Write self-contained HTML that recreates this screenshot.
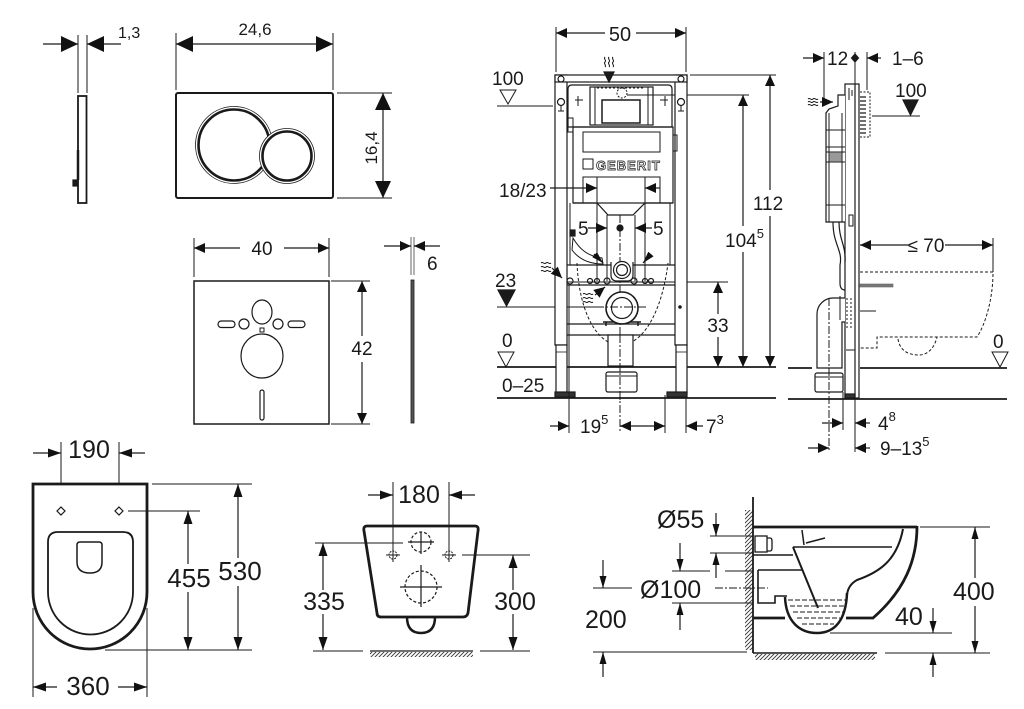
<!DOCTYPE html>
<html><head><meta charset="utf-8">
<style>
html,body{margin:0;padding:0;background:#fff;}
svg{display:block;}
text{font-family:"Liberation Sans",Arial,sans-serif;fill:#1a1a1a;stroke:none;}
</style></head><body>
<svg width="1024" height="709" viewBox="0 0 1024 709" xmlns="http://www.w3.org/2000/svg">
<defs>
<marker id="mB" markerUnits="userSpaceOnUse" markerWidth="17" markerHeight="16" refX="17" refY="8" orient="auto-start-reverse"><path d="M0,0L17,8L0,16Z" fill="#111"/></marker>
<marker id="mM" markerUnits="userSpaceOnUse" markerWidth="11" markerHeight="10" refX="11" refY="5" orient="auto-start-reverse"><path d="M0,0L11,5L0,10Z" fill="#111"/></marker>
<marker id="mS" markerUnits="userSpaceOnUse" markerWidth="13" markerHeight="9" refX="13" refY="4.5" orient="auto-start-reverse"><path d="M0,0L13,4.5L0,9Z" fill="#111"/></marker>
<marker id="mT" markerUnits="userSpaceOnUse" markerWidth="12" markerHeight="7" refX="12" refY="3.5" orient="auto-start-reverse"><path d="M0,0L12,3.5L0,7Z" fill="#111"/></marker>
<pattern id="hp" patternUnits="userSpaceOnUse" width="4" height="4"><path d="M0,4L4,0M-1,1L1,-1M3,5L5,3" stroke="#333" stroke-width="0.9"/></pattern>
</defs>
<rect width="1024" height="709" fill="#fff"/>

<g fill="none" stroke="#1a1a1a" stroke-width="1.2">
<!-- ===== Button side view ===== -->
<line x1="78" y1="35" x2="78" y2="93" stroke-width="1"/>
<line x1="87" y1="35" x2="87" y2="93" stroke-width="1"/>
<line x1="43" y1="44" x2="78" y2="44" marker-end="url(#mB)"/>
<line x1="121" y1="44" x2="87" y2="44" marker-end="url(#mB)"/>
<rect x="78" y="96" width="8.5" height="107" stroke-width="1.8"/>
<line x1="78" y1="150" x2="78" y2="180" stroke-width="2.5"/>
<rect x="73" y="180" width="5" height="6" fill="#1a1a1a"/>

<!-- ===== Button front ===== -->
<rect x="176" y="93" width="157" height="105" rx="2" stroke-width="2"/>
<circle cx="234" cy="145" r="38.5" fill="#fff" stroke-width="0.8"/>
<circle cx="234" cy="145" r="35.5" fill="#fff" stroke-width="2.6"/>
<circle cx="287" cy="156" r="27.5" fill="#fff" stroke-width="0.8"/>
<circle cx="287" cy="156" r="24.5" fill="#fff" stroke-width="2.6"/>
<line x1="176" y1="33" x2="176" y2="90" stroke-width="1"/>
<line x1="333" y1="33" x2="333" y2="90" stroke-width="1"/>
<line x1="176" y1="44" x2="333" y2="44" marker-start="url(#mB)" marker-end="url(#mB)"/>
<line x1="337" y1="93" x2="392" y2="93" stroke-width="1"/>
<line x1="337" y1="198" x2="392" y2="198" stroke-width="1"/>
<line x1="383" y1="93" x2="383" y2="198" marker-start="url(#mB)" marker-end="url(#mB)"/>

<!-- ===== Mat ===== -->
<line x1="194" y1="238" x2="194" y2="277" stroke-width="1"/>
<line x1="329" y1="238" x2="329" y2="277" stroke-width="1"/>
<line x1="194" y1="248" x2="240" y2="248" marker-start="url(#mM)"/>
<line x1="284" y1="248" x2="329" y2="248" marker-end="url(#mM)"/>
<rect x="194" y="281" width="135" height="143" stroke-width="1.5"/>
<ellipse cx="262" cy="312" rx="10" ry="12"/>
<rect x="218" y="321" width="17" height="6.5" rx="3.2"/>
<circle cx="244" cy="324" r="5"/>
<circle cx="278" cy="324" r="5"/>
<rect x="288" y="321" width="17" height="6.5" rx="3.2"/>
<rect x="260" y="328" width="4" height="4" stroke-width="1"/>
<ellipse cx="262" cy="356" rx="21" ry="22"/>
<rect x="260" y="390" width="4" height="30" rx="2"/>
<line x1="331" y1="281" x2="370" y2="281" stroke-width="1"/>
<line x1="331" y1="424" x2="370" y2="424" stroke-width="1"/>
<line x1="362" y1="281" x2="362" y2="336" marker-start="url(#mM)"/>
<line x1="362" y1="362" x2="362" y2="424" marker-end="url(#mM)"/>
<rect x="411" y="280" width="3" height="143" fill="#555" stroke-width="0.8"/>
<line x1="411" y1="237" x2="411" y2="275" stroke="#999" stroke-width="1.5"/>
<line x1="414" y1="237" x2="414" y2="275" stroke="#999" stroke-width="1.5"/>
<line x1="384" y1="246" x2="411" y2="246" marker-end="url(#mM)"/>
<line x1="440" y1="246" x2="414" y2="246" marker-end="url(#mM)"/>

<!-- ===== Frame front view ===== -->
<line x1="556" y1="27" x2="556" y2="72" stroke-width="1"/>
<line x1="686" y1="27" x2="686" y2="72" stroke-width="1"/>
<line x1="556" y1="33" x2="605" y2="33" marker-start="url(#mM)"/>
<line x1="636" y1="33" x2="686" y2="33" marker-end="url(#mM)"/>
<polygon points="500,90 516,90 508,104" fill="#fff" stroke-width="1"/>
<line x1="497" y1="106" x2="553" y2="106" stroke-width="1"/>
<line x1="690" y1="75" x2="776" y2="75" stroke-width="1"/>
<line x1="627" y1="95" x2="749" y2="95" stroke-width="1"/>
<line x1="770" y1="75" x2="770" y2="190" marker-start="url(#mM)"/>
<line x1="770" y1="216" x2="770" y2="367" marker-end="url(#mM)"/>
<line x1="743" y1="95" x2="743" y2="226" marker-start="url(#mM)"/>
<line x1="743" y1="252" x2="743" y2="367" marker-end="url(#mM)"/>
<line x1="718" y1="282" x2="718" y2="314" marker-start="url(#mM)"/>
<line x1="718" y1="337" x2="718" y2="367" marker-end="url(#mM)"/>
<line x1="565" y1="282" x2="728" y2="282" stroke-width="1"/>
<polygon points="498,290 515,290 506.5,306" fill="#1a1a1a"/>
<line x1="497" y1="307" x2="596" y2="307" stroke-width="1"/>
<line x1="596" y1="307" x2="648" y2="307" stroke-width="1" stroke-dasharray="8,2,2,2"/>
<polygon points="498,352 514,352 506,367" fill="#fff" stroke-width="1"/>
<line x1="497" y1="367" x2="776" y2="367" stroke-width="1.8"/>
<line x1="497" y1="398" x2="776" y2="398" stroke-width="1.8"/>
<!-- rails -->
<rect x="555" y="75" width="12" height="270" fill="#fff"/>
<rect x="675" y="75" width="12" height="270" fill="#fff"/>
<rect x="555" y="75" width="132" height="7" fill="#fff"/>
<rect x="556" y="345" width="11" height="48" fill="#fff"/>
<rect x="676" y="345" width="11" height="48" fill="#fff"/>
<line x1="556" y1="352" x2="567" y2="352" stroke-width="0.8"/>
<line x1="676" y1="352" x2="687" y2="352" stroke-width="0.8"/>
<rect x="555" y="392" width="20" height="5" fill="#333"/>
<rect x="667" y="392" width="20" height="5" fill="#333"/>
<circle cx="561" cy="79" r="3"/><circle cx="681" cy="79" r="3"/>
<circle cx="561" cy="102" r="3.5"/><circle cx="681" cy="102" r="3.5"/>
<path d="M561,106V111M558,111H564M681,106V111M678,111H684" stroke-width="1"/>
<!-- cistern -->
<path d="M572,85H668Q672,85 672,89V127H568V89Q568,85 572,85Z"/>
<rect x="590" y="87" width="63" height="38"/>
<line x1="595" y1="87" x2="595" y2="125" stroke-width="1"/>
<line x1="648" y1="87" x2="648" y2="125" stroke-width="1"/>
<rect x="602" y="100" width="38" height="23" stroke-width="1.5"/>
<circle cx="622" cy="93" r="5" stroke-width="1" stroke-dasharray="2,1.5"/>
<line x1="597" y1="88" x2="645" y2="88" stroke-width="1" stroke-dasharray="2,2"/>
<path d="M575,100H583M660,100H668M578,96V106M665,96V106" stroke-width="1"/>
<rect x="573" y="127" width="100" height="76"/>
<rect x="568" y="118" width="5" height="14" stroke-width="1"/>
<rect x="673" y="135" width="4" height="16" stroke-width="1"/>
<rect x="583" y="132" width="77" height="20" stroke-width="1"/>
<rect x="583" y="159" width="10" height="10" stroke-width="1"/>
<path d="M583,203V177H660V203" stroke-width="1"/>
<path d="M573,203H597L608,215H633L645,203H673"/>
<line x1="597" y1="177" x2="597" y2="281" stroke-width="1"/>
<line x1="645" y1="177" x2="645" y2="281" stroke-width="1"/>
<line x1="607" y1="215" x2="607" y2="281" stroke-width="1"/>
<line x1="635" y1="215" x2="635" y2="281" stroke-width="1"/>
<line x1="570" y1="203" x2="570" y2="265" stroke-width="1"/>
<line x1="670" y1="203" x2="670" y2="265" stroke-width="1"/>
<line x1="620" y1="215" x2="620" y2="400" stroke-width="1" stroke-dasharray="8,2,2,2"/>
<circle cx="620" cy="228" r="3" fill="#1a1a1a"/>
<rect x="570" y="230" width="5" height="6" fill="#1a1a1a"/>
<path d="M573,238C580,250 588,256 602,258L603,264C588,264 578,258 572,250Z" stroke-width="1"/>
<line x1="550" y1="188" x2="597" y2="188" marker-end="url(#mM)"/>
<line x1="660" y1="188" x2="645" y2="188" marker-end="url(#mM)"/>
<line x1="588" y1="228" x2="607" y2="228" marker-end="url(#mM)"/>
<line x1="652" y1="228" x2="635" y2="228" marker-end="url(#mM)"/>
<line x1="567" y1="265" x2="675" y2="265"/>
<line x1="567" y1="285" x2="675" y2="285"/>
<circle cx="570" cy="281" r="3"/><circle cx="590" cy="281" r="2.5"/><circle cx="597" cy="281" r="2.5"/>
<circle cx="607" cy="281" r="3"/><circle cx="634" cy="281" r="3"/><circle cx="645" cy="281" r="2.5"/><circle cx="651" cy="281" r="2.5"/>
<path d="M611,262V275Q611,281 617,281H627Q633,281 633,275V262" fill="#fff"/>
<circle cx="622" cy="270" r="8.5" fill="#fff"/>
<circle cx="622" cy="270" r="5.5"/>
<line x1="594" y1="254" x2="603" y2="263" marker-end="url(#mT)"/>
<line x1="651" y1="254" x2="643" y2="263" marker-end="url(#mT)"/>
<path d="M541,263c2,-2 3,2 5,0s3,2 5,0M541,267c2,-2 3,2 5,0s3,2 5,0M541,271c2,-2 3,2 5,0s3,2 5,0" stroke-width="1"/>
<line x1="552" y1="268" x2="562" y2="278" marker-end="url(#mM)"/>
<path d="M583,294c2,-2 3,2 5,0s3,2 5,0M583,298c2,-2 3,2 5,0s3,2 5,0M583,302c2,-2 3,2 5,0s3,2 5,0" stroke-width="1"/>
<line x1="595" y1="295" x2="605" y2="287" marker-end="url(#mM)"/>
<path d="M605,57c-2,2 2,3 0,5s2,3 0,5M609,57c-2,2 2,3 0,5s2,3 0,5M613,57c-2,2 2,3 0,5s2,3 0,5" stroke-width="1"/>
<polygon points="604,72 614,72 609,82" fill="#1a1a1a"/>
<path d="M577,263C579,312 597,345 620,345C643,345 662,312 668,263" stroke-width="1" stroke-dasharray="3,2"/>
<path d="M603,322H641M606,322V326M638,322V326" stroke-width="1.5"/>
<circle cx="622" cy="308" r="16" fill="#fff" stroke-width="1.6"/>
<circle cx="622" cy="308" r="10.5"/>
<line x1="596" y1="307" x2="648" y2="307" stroke-width="1" stroke-dasharray="8,2,2,2"/>
<line x1="567" y1="324" x2="675" y2="324"/>
<line x1="567" y1="335" x2="675" y2="335"/>
<rect x="608" y="335" width="25" height="31" fill="#fff"/>
<rect x="606" y="372" width="31" height="20" rx="2" fill="#fff"/>
<line x1="606" y1="376" x2="637" y2="376" stroke-width="1"/>
<line x1="620" y1="335" x2="620" y2="433" stroke-width="1" stroke-dasharray="8,2,2,2"/>
<circle cx="680" cy="307" r="1.2" fill="#1a1a1a"/>
<line x1="569" y1="285" x2="569" y2="433" stroke-width="1"/>
<line x1="665" y1="395" x2="665" y2="433" stroke-width="1"/>
<line x1="686" y1="398" x2="686" y2="433" stroke-width="1"/>
<line x1="550" y1="426" x2="569" y2="426" marker-end="url(#mM)"/>
<line x1="620" y1="426" x2="665" y2="426" marker-start="url(#mM)" marker-end="url(#mM)"/>
<line x1="703" y1="426" x2="686" y2="426" marker-end="url(#mM)"/>

<!-- ===== Side view ===== -->
<line x1="803" y1="58" x2="824" y2="58" marker-end="url(#mM)"/>
<line x1="824" y1="52" x2="824" y2="100" stroke-width="1"/>
<path d="M855,54L858.5,58L855,62L851.5,58Z" fill="#1a1a1a"/>
<line x1="855" y1="52" x2="855" y2="84" stroke-width="1"/>
<line x1="867" y1="52" x2="867" y2="90" stroke-width="1"/>
<line x1="881" y1="58" x2="867" y2="58" marker-end="url(#mM)"/>
<polygon points="903,100 918,100 910.5,115" fill="#1a1a1a"/>
<line x1="872" y1="116" x2="920" y2="116" stroke-width="1"/>
<line x1="788" y1="368" x2="812" y2="368" stroke-width="1.8"/>
<line x1="860" y1="368" x2="1007" y2="368" stroke-width="1.8"/>
<line x1="788" y1="399" x2="1007" y2="399" stroke-width="1.8"/>
<rect x="845" y="84" width="14" height="314" fill="#fff"/>
<line x1="855" y1="84" x2="855" y2="398"/>
<path d="M849,88V100M852,90V96" stroke-width="1"/>
<rect x="845" y="394" width="10" height="4" fill="#333"/>
<line x1="846" y1="350" x2="855" y2="350" stroke-width="1"/>
<path d="M845,95H838V106L829,109L826,113V222H845" fill="#fff"/>
<path d="M826,130H845M826,147H845M826,152H845M826,162H845M829,113V222M842,113V222M826,205H845" stroke-width="1"/>
<rect x="829" y="152" width="13" height="10" fill="#999" stroke-width="0.8"/>
<path d="M833,222C833,245 843,250 840,265V283Q840,290 845,290M839,222C839,240 846,245 845,262" stroke-width="1.2"/>
<rect x="849" y="215" width="4" height="11" stroke-width="1"/>
<path d="M860,92H870V137H860" stroke-width="1" stroke-dasharray="2,1.5"/>
<path d="M860,97H866M860,101H866M860,105H866M860,109H866M860,113H866M860,117H866M860,121H866M860,125H866M860,129H866M860,133H866" stroke-width="1.3"/>
<path d="M808,99c2,-2 3,2 5,0s3,2 5,0M808,102c2,-2 3,2 5,0s3,2 5,0M808,105c2,-2 3,2 5,0s3,2 5,0" stroke-width="1"/>
<line x1="820" y1="102" x2="833" y2="102" marker-end="url(#mM)"/>
<line x1="993" y1="238" x2="993" y2="272" stroke-width="1"/>
<line x1="860" y1="245" x2="908" y2="245" marker-start="url(#mM)"/>
<line x1="945" y1="245" x2="993" y2="245" marker-end="url(#mM)"/>
<path d="M860,272H993C993,300 985,325 977,337H877V348H860" stroke-width="1" stroke-dasharray="3,2"/>
<path d="M898,339C900,352 910,355 919,355C929,355 935,346 937,337" stroke-width="1" stroke-dasharray="3,2"/>
<rect x="860" y="284" width="33" height="3" fill="#777" stroke="#666" stroke-width="0.6"/>
<line x1="860" y1="311" x2="876" y2="311" stroke-width="1"/>
<path d="M845,298H833A16,16 0 0 0 817,314V368H842V322H845" fill="#fff"/>
<path d="M840,296V320" stroke-width="1"/>
<path d="M847,298V330M851,298V330" stroke-width="1" stroke-dasharray="2,2"/>
<rect x="815" y="373" width="28" height="19" rx="2" fill="#fff"/>
<line x1="815" y1="377" x2="843" y2="377" stroke-width="1"/>
<line x1="829" y1="298" x2="829" y2="452" stroke-width="1" stroke-dasharray="8,2,2,2"/>
<line x1="843" y1="392" x2="843" y2="430" stroke-width="1"/>
<line x1="855" y1="399" x2="855" y2="452" stroke-width="1"/>
<polygon points="992,352 1008,352 1000,367" fill="#fff" stroke-width="1"/>
<line x1="822" y1="423" x2="843" y2="423" marker-end="url(#mM)"/>
<line x1="870" y1="423" x2="855" y2="423" marker-end="url(#mM)"/>
<line x1="808" y1="448" x2="829" y2="448" marker-end="url(#mM)"/>
<line x1="870" y1="448" x2="855" y2="448" marker-end="url(#mM)"/>

<!-- ===== Bottom left: top view ===== -->
<line x1="61" y1="442" x2="61" y2="512" stroke-width="1"/>
<line x1="119" y1="442" x2="119" y2="512" stroke-width="1"/>
<line x1="33" y1="453" x2="61" y2="453" marker-end="url(#mS)"/>
<line x1="145" y1="453" x2="119" y2="453" marker-end="url(#mS)"/>
<path d="M33,484H147V592A57,57 0 0 1 33,592Z" stroke-width="2.8" fill="#fff"/>
<path d="M61,507L65,511L61,515L57,511ZM119,507L123,511L119,515L115,511Z" stroke-width="1.2"/>
<path d="M58,532H123Q133,532 133,542V592A42.5,42.5 0 0 1 48,592V542Q48,532 58,532Z" stroke-width="1.8"/>
<path d="M80,542H99Q102,542 102,545V562Q102,573 90,573Q77,573 77,562V545Q77,542 80,542Z" stroke-width="1.5"/>
<line x1="152" y1="484" x2="252" y2="484" stroke-width="1"/>
<line x1="128" y1="511" x2="200" y2="511" stroke-width="1"/>
<line x1="105" y1="650" x2="252" y2="650" stroke-width="1"/>
<line x1="188" y1="511" x2="188" y2="564" marker-start="url(#mS)"/>
<line x1="188" y1="592" x2="188" y2="650" marker-end="url(#mS)"/>
<line x1="238" y1="484" x2="238" y2="558" marker-start="url(#mS)"/>
<line x1="238" y1="586" x2="238" y2="650" marker-end="url(#mS)"/>
<line x1="33" y1="608" x2="33" y2="697" stroke-width="1"/>
<line x1="147" y1="608" x2="147" y2="697" stroke-width="1"/>
<line x1="57" y1="687" x2="33" y2="687" marker-end="url(#mS)"/>
<line x1="118" y1="687" x2="147" y2="687" marker-end="url(#mS)"/>

<!-- ===== Bottom middle: front view ===== -->
<line x1="393" y1="482" x2="393" y2="558" stroke-width="1"/>
<line x1="449" y1="482" x2="449" y2="558" stroke-width="1"/>
<line x1="368" y1="495" x2="393" y2="495" marker-end="url(#mS)"/>
<line x1="475" y1="495" x2="449" y2="495" marker-end="url(#mS)"/>
<path d="M367,526H475Q479,526 478,531L468,613Q467,617 463,617H381Q377,617 377,613L364,531Q363,526 367,526Z" stroke-width="2.8"/>
<path d="M407,617Q407,633 421,633Q435,633 435,617" stroke-width="2.5"/>
<circle cx="393" cy="555" r="4" stroke-width="1" stroke-dasharray="2,1"/>
<circle cx="449" cy="555" r="4" stroke-width="1" stroke-dasharray="2,1"/>
<path d="M386,555H400M393,548V562M442,555H456M449,548V562" stroke-width="1"/>
<circle cx="421" cy="542" r="10" stroke-width="1.2" stroke-dasharray="3,2"/>
<path d="M408,542H434M421,532V554" stroke-width="1.2"/>
<circle cx="421" cy="587" r="16" stroke-width="1.2" stroke-dasharray="3,2"/>
<path d="M400,587H442M421,565V607" stroke-width="1.2"/>
<line x1="315" y1="543" x2="403" y2="543" stroke-width="1"/>
<line x1="462" y1="555" x2="530" y2="555" stroke-width="1"/>
<line x1="323" y1="543" x2="323" y2="590" marker-start="url(#mS)"/>
<line x1="323" y1="614" x2="323" y2="650" marker-end="url(#mS)"/>
<line x1="513" y1="555" x2="513" y2="590" marker-start="url(#mS)"/>
<line x1="513" y1="614" x2="513" y2="650" marker-end="url(#mS)"/>
<line x1="313" y1="651" x2="363" y2="651" stroke-width="1"/>
<line x1="480" y1="651" x2="530" y2="651" stroke-width="1"/>
<line x1="370" y1="651" x2="473" y2="651" stroke-width="1.2"/>
<rect x="370" y="652" width="103" height="5" fill="url(#hp)" stroke="none"/>

<!-- ===== Bottom right: side view ===== -->
<rect x="745" y="510" width="8" height="140" fill="url(#hp)" stroke="none"/>
<rect x="755" y="654" width="120" height="6" fill="url(#hp)" stroke="none"/>
<line x1="753" y1="497" x2="753" y2="653" stroke-width="1.8"/>
<line x1="753" y1="653" x2="877" y2="653" stroke-width="1.5"/>
<line x1="753" y1="527" x2="917" y2="527" stroke-width="2.8"/>
<path d="M917,526C917,560 905,590 873,618" stroke-width="2.8"/>
<line x1="753" y1="618" x2="785" y2="618" stroke-width="2.8"/>
<line x1="846" y1="618" x2="874" y2="618" stroke-width="2.8"/>
<path d="M785,597C786,622 800,633 817,633C835,633 846,620 847,593" stroke-width="2.5"/>
<path d="M903,529C897,560 880,572 857,580Q848,585 847,595" stroke-width="2"/>
<line x1="793" y1="547" x2="892" y2="547" stroke-width="1.6"/>
<line x1="793" y1="547" x2="818" y2="608" stroke-width="2"/>
<path d="M758,570H803M758,570V603H775V596H787" stroke-width="1.6"/>
<line x1="753" y1="555" x2="793" y2="555" stroke-width="1.6"/>
<rect x="755" y="536" width="12" height="16" stroke-width="1.3"/>
<path d="M767,538H770Q772,538 772,541V548Q772,551 770,551H767" stroke-width="1.3"/>
<path d="M802,530L804,545M806,543L825,538" stroke-width="1.5"/>
<path d="M788,600H846M790,606H845M793,612H843M797,618H840M802,624H834" stroke-width="1" stroke-dasharray="5,2"/>
<line x1="716" y1="513" x2="716" y2="536" marker-end="url(#mT)"/>
<line x1="710" y1="536" x2="753" y2="536" stroke-width="1"/>
<line x1="710" y1="553" x2="753" y2="553" stroke-width="1"/>
<line x1="716" y1="578" x2="716" y2="553" marker-end="url(#mT)"/>
<line x1="680" y1="543" x2="680" y2="571" marker-end="url(#mT)"/>
<line x1="672" y1="571" x2="710" y2="571" stroke-width="1"/>
<line x1="725" y1="571" x2="753" y2="571" stroke-width="1"/>
<line x1="672" y1="603" x2="753" y2="603" stroke-width="1"/>
<line x1="680" y1="630" x2="680" y2="603" marker-end="url(#mT)"/>
<line x1="715" y1="588" x2="768" y2="588" stroke-width="1" stroke-dasharray="8,2,2,2"/>
<line x1="603" y1="560" x2="603" y2="588" marker-end="url(#mT)"/>
<line x1="593" y1="588" x2="632" y2="588" stroke-width="1"/>
<line x1="593" y1="652" x2="747" y2="652" stroke-width="1"/>
<line x1="603" y1="677" x2="603" y2="652" marker-end="url(#mT)"/>
<line x1="920" y1="527" x2="990" y2="527" stroke-width="1"/>
<line x1="885" y1="653" x2="990" y2="653" stroke-width="1"/>
<line x1="975" y1="578" x2="975" y2="527" marker-end="url(#mT)"/>
<line x1="975" y1="606" x2="975" y2="653" marker-end="url(#mT)"/>
<line x1="933" y1="608" x2="933" y2="633" marker-end="url(#mT)"/>
<line x1="830" y1="633" x2="952" y2="633" stroke-width="1"/>
<line x1="933" y1="677" x2="933" y2="653" marker-end="url(#mT)"/>
</g>

<!-- ===== TEXT ===== -->
<text x="118" y="38" font-size="16">1,3</text>
<text x="255" y="35" font-size="17" text-anchor="middle">24,6</text>
<text transform="translate(377,148) rotate(-90)" font-size="17" text-anchor="middle">16,4</text>
<text x="262" y="255" font-size="19" text-anchor="middle">40</text>
<text x="362" y="355" font-size="19" text-anchor="middle">42</text>
<text x="427" y="270" font-size="19">6</text>

<text x="620" y="41" font-size="20" text-anchor="middle">50</text>
<text x="492" y="85" font-size="19">100</text>
<text x="499" y="197" font-size="19">18/23</text>
<text x="768" y="210" font-size="19" text-anchor="middle">112</text>
<text x="725" y="247" font-size="19">104<tspan font-size="13" dy="-9">5</tspan></text>
<text x="578" y="235" font-size="19">5</text>
<text x="653" y="235" font-size="19">5</text>
<text x="596" y="170" font-size="13" font-weight="bold" letter-spacing="1" style="fill:#fff;stroke:#444;stroke-width:0.9">GEBERIT</text>
<text x="495" y="287" font-size="19">23</text>
<text x="718" y="332" font-size="19" text-anchor="middle">33</text>
<text x="502" y="347" font-size="19">0</text>
<text x="502" y="392" font-size="19">0–25</text>
<text x="580" y="433" font-size="19">19<tspan font-size="13" dy="-9">5</tspan></text>
<text x="706" y="433" font-size="19">7<tspan font-size="13" dy="-9">3</tspan></text>

<text x="827" y="65" font-size="19">12</text>
<text x="892" y="65" font-size="19">1–6</text>
<text x="895" y="97" font-size="19">100</text>
<text x="926" y="252" font-size="19" text-anchor="middle">≤ 70</text>
<text x="993" y="348" font-size="19">0</text>
<text x="878" y="430" font-size="19">4<tspan font-size="13" dy="-9">8</tspan></text>
<text x="880" y="455" font-size="19">9–13<tspan font-size="13" dy="-9">5</tspan></text>

<text x="89" y="458" font-size="25" text-anchor="middle">190</text>
<text x="189" y="587" font-size="26" text-anchor="middle">455</text>
<text x="240" y="580" font-size="26" text-anchor="middle">530</text>
<text x="88" y="695" font-size="26" text-anchor="middle">360</text>
<text x="419" y="503" font-size="25" text-anchor="middle">180</text>
<text x="324" y="610" font-size="25" text-anchor="middle">335</text>
<text x="515" y="610" font-size="25" text-anchor="middle">300</text>
<text x="657" y="528" font-size="25">Ø55</text>
<text x="640" y="598" font-size="25">Ø100</text>
<text x="585" y="628" font-size="25">200</text>
<text x="953" y="600" font-size="25">400</text>
<text x="895" y="625" font-size="25">40</text>
</svg>
</body></html>
